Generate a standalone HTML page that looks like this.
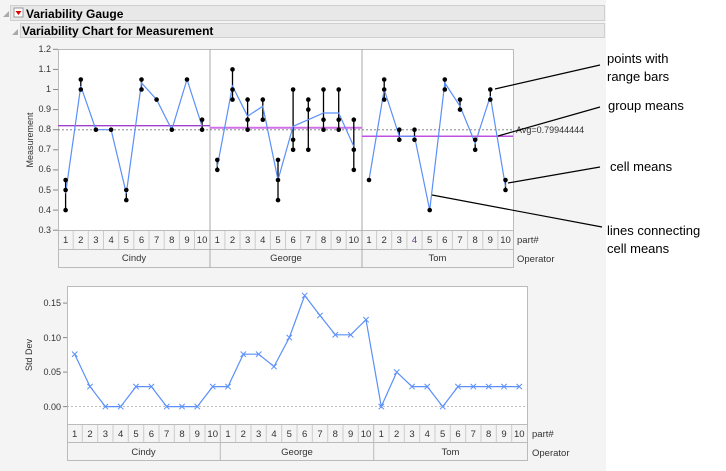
<!DOCTYPE html>
<html><head><meta charset="utf-8"><style>
body{margin:0;background:#fff}
svg{display:block;font-family:"Liberation Sans",sans-serif}
</style></head><body>
<svg width="726" height="471" viewBox="0 0 726 471">
<rect x="0" y="0" width="606" height="471" fill="#f4f4f4"/>
<!-- header bars -->
<rect x="10.5" y="5.5" width="594" height="15" fill="#e8e8e8" stroke="#cfcfcf"/>
<path d="M3 17 L9 11 L9 17Z" fill="#aaa"/>
<rect x="14" y="8" width="9" height="9" fill="#fff" stroke="#999"/>
<path d="M15.5 11 L21.5 11 L18.5 15Z" fill="#d00"/>
<text x="26" y="18" font-size="12" font-weight="bold" fill="#000">Variability Gauge</text>
<rect x="20.5" y="23.5" width="584" height="14" fill="#e8e8e8" stroke="#cfcfcf"/>
<path d="M12 35 L18 29 L18 35Z" fill="#aaa"/>
<text x="22" y="35" font-size="12" font-weight="bold" fill="#000">Variability Chart for Measurement</text>

<!-- TOP CHART -->
<rect x="58.5" y="49.5" width="455" height="181" fill="#fff" stroke="#bbb"/>
<line x1="210" y1="49" x2="210" y2="268" stroke="#aaa"/>
<line x1="362" y1="49" x2="362" y2="268" stroke="#aaa"/>
<g font-size="9" fill="#333" text-anchor="end">
<text x="51" y="52">1.2</text><text x="51" y="72">1.1</text><text x="51" y="92">1</text><text x="51" y="112">0.9</text><text x="51" y="132">0.8</text><text x="51" y="152">0.7</text><text x="51" y="172">0.6</text><text x="51" y="193">0.5</text><text x="51" y="213">0.4</text><text x="51" y="233">0.3</text>
</g>
<g stroke="#888"><line x1="53" y1="49.3" x2="58" y2="49.3"/><line x1="53" y1="69.4" x2="58" y2="69.4"/><line x1="53" y1="89.5" x2="58" y2="89.5"/><line x1="53" y1="109.6" x2="58" y2="109.6"/><line x1="53" y1="129.7" x2="58" y2="129.7"/><line x1="53" y1="149.8" x2="58" y2="149.8"/><line x1="53" y1="169.9" x2="58" y2="169.9"/><line x1="53" y1="190" x2="58" y2="190"/><line x1="53" y1="210.1" x2="58" y2="210.1"/><line x1="53" y1="230.2" x2="58" y2="230.2"/></g>
<text x="0" y="0" font-size="9" fill="#333" text-anchor="middle" transform="translate(33,140) rotate(-90)">Measurement</text>

<!-- means -->
<line x1="58" y1="125.7" x2="210" y2="125.7" stroke="#a040d0" stroke-width="1.3"/>
<line x1="210" y1="127.7" x2="362" y2="127.7" stroke="#d070e8" stroke-width="2"/>
<line x1="362" y1="136.3" x2="513" y2="136.3" stroke="#c050e0" stroke-width="1.5"/>
<line x1="58" y1="129.8" x2="513" y2="129.8" stroke="#777" stroke-dasharray="2,2" stroke-width="0.8"/>
<text x="516" y="133" font-size="9" fill="#333">Avg=0.79944444</text>

<!-- range bars -->
<g stroke="#000" stroke-width="1.3">
<line x1="65.6" y1="180" x2="65.6" y2="210.1"/><line x1="80.8" y1="79.5" x2="80.8" y2="89.5"/><line x1="126.3" y1="190" x2="126.3" y2="200.1"/><line x1="141.5" y1="79.5" x2="141.5" y2="89.5"/><line x1="202.1" y1="119.7" x2="202.1" y2="129.7"/>
<line x1="217.3" y1="159.9" x2="217.3" y2="169.9"/><line x1="232.5" y1="69.4" x2="232.5" y2="99.6"/><line x1="247.6" y1="99.6" x2="247.6" y2="129.7"/><line x1="262.8" y1="99.6" x2="262.8" y2="119.7"/><line x1="278" y1="159.9" x2="278" y2="200.1"/><line x1="293.1" y1="89.5" x2="293.1" y2="149.8"/><line x1="308.3" y1="99.6" x2="308.3" y2="149.8"/><line x1="323.5" y1="89.5" x2="323.5" y2="129.7"/><line x1="338.7" y1="89.5" x2="338.7" y2="129.7"/><line x1="353.8" y1="119.7" x2="353.8" y2="169.9"/>
<line x1="384.2" y1="79.5" x2="384.2" y2="99.6"/><line x1="399.3" y1="129.7" x2="399.3" y2="139.8"/><line x1="414.5" y1="129.7" x2="414.5" y2="139.8"/><line x1="444.8" y1="79.5" x2="444.8" y2="89.5"/><line x1="460" y1="99.6" x2="460" y2="109.6"/><line x1="475.2" y1="139.8" x2="475.2" y2="149.8"/><line x1="490.3" y1="89.5" x2="490.3" y2="99.6"/><line x1="505.5" y1="180" x2="505.5" y2="190"/>
</g>
<!-- cell mean lines -->
<g fill="none" stroke="#5b8ff9" stroke-width="1.2">
<polyline points="65.6,193.4 80.8,86.1 95.9,129.7 111.1,129.7 126.3,193.4 141.5,82.9 156.6,99.6 171.8,129.7 187,79.5 202.1,126.3"/>
<polyline points="217.3,166.5 232.5,86.1 247.6,116.2 262.8,106.2 278,180 293.1,126.3 308.3,119.7 323.5,113 338.7,113 353.8,146.4"/>
<polyline points="369,180 384.2,89.5 399.3,136.3 414.5,136.3 429.7,210.1 444.8,82.9 460,106.2 475.2,143.2 490.3,96.2 505.5,186.6"/>
</g>
<!-- points -->
<g fill="#000">
<circle cx="65.6" cy="180" r="2.3"/><circle cx="65.6" cy="190" r="2.3"/><circle cx="65.6" cy="210.1" r="2.3"/>
<circle cx="80.8" cy="79.5" r="2.3"/><circle cx="80.8" cy="89.5" r="2.3"/><circle cx="95.9" cy="129.7" r="2.3"/><circle cx="111.1" cy="129.7" r="2.3"/>
<circle cx="126.3" cy="190" r="2.3"/><circle cx="126.3" cy="200.1" r="2.3"/><circle cx="141.5" cy="79.5" r="2.3"/><circle cx="141.5" cy="89.5" r="2.3"/>
<circle cx="156.6" cy="99.6" r="2.3"/><circle cx="171.8" cy="129.7" r="2.3"/><circle cx="187" cy="79.5" r="2.3"/><circle cx="202.1" cy="119.7" r="2.3"/><circle cx="202.1" cy="129.7" r="2.3"/>
<circle cx="217.3" cy="159.9" r="2.3"/><circle cx="217.3" cy="169.9" r="2.3"/><circle cx="232.5" cy="69.4" r="2.3"/><circle cx="232.5" cy="89.5" r="2.3"/><circle cx="232.5" cy="99.6" r="2.3"/>
<circle cx="247.6" cy="99.6" r="2.3"/><circle cx="247.6" cy="119.7" r="2.3"/><circle cx="247.6" cy="129.7" r="2.3"/><circle cx="262.8" cy="99.6" r="2.3"/><circle cx="262.8" cy="119.7" r="2.3"/>
<circle cx="278" cy="159.9" r="2.3"/><circle cx="278" cy="180" r="2.3"/><circle cx="278" cy="200.1" r="2.3"/><circle cx="293.1" cy="89.5" r="2.3"/><circle cx="293.1" cy="139.8" r="2.3"/><circle cx="293.1" cy="149.8" r="2.3"/>
<circle cx="308.3" cy="99.6" r="2.3"/><circle cx="308.3" cy="109.6" r="2.3"/><circle cx="308.3" cy="149.8" r="2.3"/><circle cx="323.5" cy="89.5" r="2.3"/><circle cx="323.5" cy="119.7" r="2.3"/><circle cx="323.5" cy="129.7" r="2.3"/>
<circle cx="338.7" cy="89.5" r="2.3"/><circle cx="338.7" cy="119.7" r="2.3"/><circle cx="338.7" cy="129.7" r="2.3"/><circle cx="353.8" cy="119.7" r="2.3"/><circle cx="353.8" cy="149.8" r="2.3"/><circle cx="353.8" cy="169.9" r="2.3"/>
<circle cx="369" cy="180" r="2.3"/><circle cx="384.2" cy="79.5" r="2.3"/><circle cx="384.2" cy="89.5" r="2.3"/><circle cx="384.2" cy="99.6" r="2.3"/>
<circle cx="399.3" cy="129.7" r="2.3"/><circle cx="399.3" cy="139.8" r="2.3"/><circle cx="414.5" cy="129.7" r="2.3"/><circle cx="414.5" cy="139.8" r="2.3"/><circle cx="429.7" cy="210.1" r="2.3"/>
<circle cx="444.8" cy="79.5" r="2.3"/><circle cx="444.8" cy="89.5" r="2.3"/><circle cx="460" cy="99.6" r="2.3"/><circle cx="460" cy="109.6" r="2.3"/><circle cx="475.2" cy="139.8" r="2.3"/><circle cx="475.2" cy="149.8" r="2.3"/>
<circle cx="490.3" cy="89.5" r="2.3"/><circle cx="490.3" cy="99.6" r="2.3"/><circle cx="505.5" cy="180" r="2.3"/><circle cx="505.5" cy="190" r="2.3"/>
</g>
<!-- top x axis table -->
<rect x="58.5" y="230.5" width="455" height="37" fill="#f4f4f4" stroke="#bbb"/>
<line x1="58" y1="249.5" x2="513" y2="249.5" stroke="#bbb"/>
<g stroke="#ccc">
<line x1="73.2" y1="231" x2="73.2" y2="249"/><line x1="88.3" y1="231" x2="88.3" y2="249"/><line x1="103.5" y1="231" x2="103.5" y2="249"/><line x1="118.7" y1="231" x2="118.7" y2="249"/><line x1="133.8" y1="231" x2="133.8" y2="249"/><line x1="149" y1="231" x2="149" y2="249"/><line x1="164.2" y1="231" x2="164.2" y2="249"/><line x1="179.4" y1="231" x2="179.4" y2="249"/><line x1="194.5" y1="231" x2="194.5" y2="249"/>
<line x1="224.9" y1="231" x2="224.9" y2="249"/><line x1="240" y1="231" x2="240" y2="249"/><line x1="255.2" y1="231" x2="255.2" y2="249"/><line x1="270.4" y1="231" x2="270.4" y2="249"/><line x1="285.5" y1="231" x2="285.5" y2="249"/><line x1="300.7" y1="231" x2="300.7" y2="249"/><line x1="315.9" y1="231" x2="315.9" y2="249"/><line x1="331.1" y1="231" x2="331.1" y2="249"/><line x1="346.2" y1="231" x2="346.2" y2="249"/>
<line x1="376.6" y1="231" x2="376.6" y2="249"/><line x1="391.7" y1="231" x2="391.7" y2="249"/><line x1="406.9" y1="231" x2="406.9" y2="249"/><line x1="422.1" y1="231" x2="422.1" y2="249"/><line x1="437.2" y1="231" x2="437.2" y2="249"/><line x1="452.4" y1="231" x2="452.4" y2="249"/><line x1="467.6" y1="231" x2="467.6" y2="249"/><line x1="482.8" y1="231" x2="482.8" y2="249"/><line x1="497.9" y1="231" x2="497.9" y2="249"/>
</g>
<line x1="210" y1="230" x2="210" y2="268" stroke="#aaa"/><line x1="362" y1="230" x2="362" y2="268" stroke="#aaa"/>
<g font-size="9.5" fill="#333" text-anchor="middle">
<text x="65.6" y="243">1</text><text x="80.8" y="243">2</text><text x="95.9" y="243">3</text><text x="111.1" y="243">4</text><text x="126.3" y="243">5</text><text x="141.5" y="243">6</text><text x="156.6" y="243">7</text><text x="171.8" y="243">8</text><text x="187" y="243">9</text><text x="202.1" y="243">10</text>
<text x="217.3" y="243">1</text><text x="232.5" y="243">2</text><text x="247.6" y="243">3</text><text x="262.8" y="243">4</text><text x="278" y="243">5</text><text x="293.1" y="243">6</text><text x="308.3" y="243">7</text><text x="323.5" y="243">8</text><text x="338.7" y="243">9</text><text x="353.8" y="243">10</text>
<text x="369" y="243">1</text><text x="384.2" y="243">2</text><text x="399.3" y="243">3</text><text x="414.5" y="243" fill="#604080">4</text><text x="429.7" y="243">5</text><text x="444.8" y="243">6</text><text x="460" y="243">7</text><text x="475.2" y="243">8</text><text x="490.3" y="243">9</text><text x="505.5" y="243">10</text>
<text x="134" y="261">Cindy</text><text x="286" y="261">George</text><text x="437.5" y="261">Tom</text>
</g>
<text x="517" y="243" font-size="9.5" fill="#333">part#</text>
<text x="517" y="262" font-size="9.5" fill="#333">Operator</text>

<!-- annotations -->
<g stroke="#000" stroke-width="1.2">
<line x1="495" y1="89" x2="600" y2="65"/>
<line x1="498" y1="136" x2="600" y2="107"/>
<line x1="508" y1="183" x2="600" y2="167"/>
<line x1="432" y1="195" x2="602" y2="227"/>
</g>
<g font-size="13" fill="#000">
<text x="607" y="63">points with</text><text x="607" y="81">range bars</text>
<text x="608" y="110">group means</text>
<text x="610" y="171">cell means</text>
<text x="607" y="235">lines connecting</text><text x="607" y="253">cell means</text>
</g>

<!-- BOTTOM CHART -->
<rect x="67.5" y="286.5" width="460" height="138" fill="#fff" stroke="#bbb"/>
<line x1="67" y1="406.6" x2="527" y2="406.6" stroke="#aaa" stroke-dasharray="2,2" stroke-width="0.8"/>
<g font-size="9" fill="#333" text-anchor="end">
<text x="61" y="306">0.15</text><text x="61" y="341">0.10</text><text x="61" y="375">0.05</text><text x="61" y="410">0.00</text>
</g>
<g stroke="#888"><line x1="63" y1="303.1" x2="67" y2="303.1"/><line x1="63" y1="337.6" x2="67" y2="337.6"/><line x1="63" y1="372.1" x2="67" y2="372.1"/><line x1="63" y1="406.6" x2="67" y2="406.6"/></g>
<text font-size="9" fill="#333" text-anchor="middle" transform="translate(32,355) rotate(-90)">Std Dev</text>
<polyline fill="none" stroke="#5b8ff9" stroke-width="1.2" points="74.7,354.2 90,386.6 105.4,406.6 120.7,406.6 136,386.6 151.4,386.6 166.7,406.6 182,406.6 197.3,406.6 212.7,386.6 228,386.6 243.3,354.2 258.7,354.2 274,366.6 289.3,337.6 304.7,295.5 320,315.5 335.3,334.8 350.7,334.8 366,319.7 381.3,406.6 396.7,372.1 412,386.6 427.3,386.6 442.7,406.6 458,386.6 473.3,386.6 488.7,386.6 504,386.6 519.3,386.6"/>
<g stroke="#5b8ff9" stroke-width="1" fill="none">
<path d="M72 351.5l5.4 5.4M77.4 351.5l-5.4 5.4M87.3 383.9l5.4 5.4M92.7 383.9l-5.4 5.4M102.7 403.9l5.4 5.4M108.1 403.9l-5.4 5.4M118 403.9l5.4 5.4M123.4 403.9l-5.4 5.4M133.3 383.9l5.4 5.4M138.7 383.9l-5.4 5.4M148.7 383.9l5.4 5.4M154.1 383.9l-5.4 5.4M164 403.9l5.4 5.4M169.4 403.9l-5.4 5.4M179.3 403.9l5.4 5.4M184.7 403.9l-5.4 5.4M194.6 403.9l5.4 5.4M200 403.9l-5.4 5.4M210 383.9l5.4 5.4M215.4 383.9l-5.4 5.4"/>
<path d="M225.3 383.9l5.4 5.4M230.7 383.9l-5.4 5.4M240.6 351.5l5.4 5.4M246 351.5l-5.4 5.4M256 351.5l5.4 5.4M261.4 351.5l-5.4 5.4M271.3 363.9l5.4 5.4M276.7 363.9l-5.4 5.4M286.6 334.9l5.4 5.4M292 334.9l-5.4 5.4M302 292.8l5.4 5.4M307.4 292.8l-5.4 5.4M317.3 312.8l5.4 5.4M322.7 312.8l-5.4 5.4M332.6 332.1l5.4 5.4M338 332.1l-5.4 5.4M348 332.1l5.4 5.4M353.4 332.1l-5.4 5.4M363.3 317l5.4 5.4M368.7 317l-5.4 5.4"/>
<path d="M378.6 403.9l5.4 5.4M384 403.9l-5.4 5.4M394 369.4l5.4 5.4M399.4 369.4l-5.4 5.4M409.3 383.9l5.4 5.4M414.7 383.9l-5.4 5.4M424.6 383.9l5.4 5.4M430 383.9l-5.4 5.4M440 403.9l5.4 5.4M445.4 403.9l-5.4 5.4M455.3 383.9l5.4 5.4M460.7 383.9l-5.4 5.4M470.6 383.9l5.4 5.4M476 383.9l-5.4 5.4M486 383.9l5.4 5.4M491.4 383.9l-5.4 5.4M501.3 383.9l5.4 5.4M506.7 383.9l-5.4 5.4M516.6 383.9l5.4 5.4M522 383.9l-5.4 5.4"/>
</g>
<rect x="67.5" y="424.5" width="460" height="36" fill="#f4f4f4" stroke="#bbb"/>
<line x1="67" y1="442.5" x2="527" y2="442.5" stroke="#bbb"/>
<g stroke="#ccc">
<line x1="82.3" y1="425" x2="82.3" y2="442"/><line x1="97.7" y1="425" x2="97.7" y2="442"/><line x1="113" y1="425" x2="113" y2="442"/><line x1="128.3" y1="425" x2="128.3" y2="442"/><line x1="143.7" y1="425" x2="143.7" y2="442"/><line x1="159" y1="425" x2="159" y2="442"/><line x1="174.3" y1="425" x2="174.3" y2="442"/><line x1="189.7" y1="425" x2="189.7" y2="442"/><line x1="205" y1="425" x2="205" y2="442"/>
<line x1="235.7" y1="425" x2="235.7" y2="442"/><line x1="251" y1="425" x2="251" y2="442"/><line x1="266.3" y1="425" x2="266.3" y2="442"/><line x1="281.7" y1="425" x2="281.7" y2="442"/><line x1="297" y1="425" x2="297" y2="442"/><line x1="312.3" y1="425" x2="312.3" y2="442"/><line x1="327.7" y1="425" x2="327.7" y2="442"/><line x1="343" y1="425" x2="343" y2="442"/><line x1="358.3" y1="425" x2="358.3" y2="442"/>
<line x1="389" y1="425" x2="389" y2="442"/><line x1="404.3" y1="425" x2="404.3" y2="442"/><line x1="419.7" y1="425" x2="419.7" y2="442"/><line x1="435" y1="425" x2="435" y2="442"/><line x1="450.3" y1="425" x2="450.3" y2="442"/><line x1="465.7" y1="425" x2="465.7" y2="442"/><line x1="481" y1="425" x2="481" y2="442"/><line x1="496.3" y1="425" x2="496.3" y2="442"/><line x1="511.7" y1="425" x2="511.7" y2="442"/>
</g>
<line x1="220.3" y1="424" x2="220.3" y2="461" stroke="#bbb"/><line x1="373.7" y1="424" x2="373.7" y2="461" stroke="#bbb"/>
<g font-size="9.5" fill="#333" text-anchor="middle">
<text x="74.7" y="437">1</text><text x="90" y="437">2</text><text x="105.4" y="437">3</text><text x="120.7" y="437">4</text><text x="136" y="437">5</text><text x="151.4" y="437">6</text><text x="166.7" y="437">7</text><text x="182" y="437">8</text><text x="197.3" y="437">9</text><text x="212.7" y="437">10</text>
<text x="228" y="437">1</text><text x="243.3" y="437">2</text><text x="258.7" y="437">3</text><text x="274" y="437">4</text><text x="289.3" y="437">5</text><text x="304.7" y="437">6</text><text x="320" y="437">7</text><text x="335.3" y="437">8</text><text x="350.7" y="437">9</text><text x="366" y="437">10</text>
<text x="381.3" y="437">1</text><text x="396.7" y="437">2</text><text x="412" y="437">3</text><text x="427.3" y="437">4</text><text x="442.7" y="437">5</text><text x="458" y="437">6</text><text x="473.3" y="437">7</text><text x="488.7" y="437">8</text><text x="504" y="437">9</text><text x="519.3" y="437">10</text>
<text x="143.5" y="455">Cindy</text><text x="297" y="455">George</text><text x="450.5" y="455">Tom</text>
</g>
<text x="532" y="437" font-size="9.5" fill="#333">part#</text>
<text x="532" y="456" font-size="9.5" fill="#333">Operator</text>
</svg>
</body></html>
